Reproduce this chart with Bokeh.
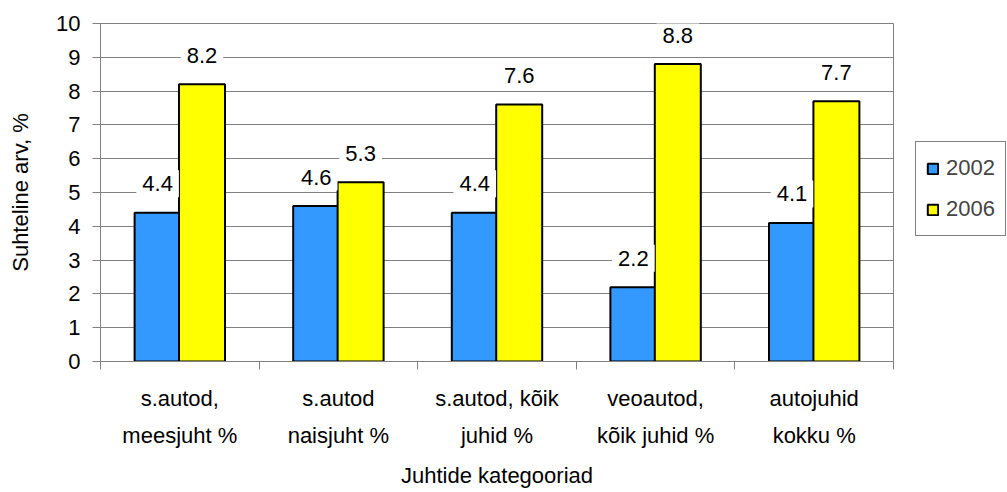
import numpy as np
from bokeh.plotting import figure
from bokeh.models import (ColumnDataSource, Label, Range1d, FixedTicker,
                          Legend, LegendItem)
from bokeh.embed import file_html
from bokeh.resources import INLINE

# ---- data ----
categories = ["s.autod,\nmeesjuht %", "s.autod\nnaisjuht %", "s.autod, kõik\njuhid %",
              "veoautod,\nkõik juhid %", "autojuhid\nkokku %"]
series_names = ["2002", "2006"]
values_2002 = [4.4, 4.6, 4.4, 2.2, 4.1]
values_2006 = [8.2, 5.3, 7.6, 8.8, 7.7]
y_ticks = [0, 1, 2, 3, 4, 5, 6, 7, 8, 9, 10]
colors = ["#3399FF", "#FFFF00"]

FONT = "Liberation Sans"
FS = "22px"
GRAY = "#808080"
n = len(categories)
centers = np.arange(n) + 0.5
offset = 0.14
bar_w = 0.29

p = figure(frame_width=793, frame_height=338, x_range=Range1d(0, n), y_range=Range1d(0, 10),
           output_backend="svg", toolbar_location=None,
           min_border_left=100, min_border_right=114, min_border_top=23,
           min_border_bottom=131, background_fill_color="white",
           border_fill_color="white", outline_line_color=GRAY)

renderers = []
for k, (name, vals, col) in enumerate(zip(series_names, [values_2002, values_2006], colors)):
    xs = centers + (offset if k else -offset)
    src = ColumnDataSource(dict(x=xs, top=vals))
    r = p.vbar(x="x", top="top", width=bar_w, source=src, fill_color=col,
               line_color="black", line_width=2)
    renderers.append(r)
    for xv, v in zip(xs, vals):
        p.add_layout(Label(x=float(xv), y=v, text=f"{v:.1f}", text_align="center",
                           text_baseline="middle", y_offset=29, text_font=FONT,
                           text_font_size=FS, text_color="black",
                           background_fill_color="white", padding=6))

# x axis
xa = p.xaxis[0]
xa.ticker = FixedTicker(ticks=list(centers), minor_ticks=list(range(n + 1)))
xa.major_label_overrides = {float(c): cat for c, cat in zip(centers, categories)}
xa.major_tick_line_color = None
xa.major_tick_out = 0
xa.major_tick_in = 0
xa.minor_tick_out = 8
xa.minor_tick_in = 0
xa.minor_tick_line_color = GRAY
xa.axis_line_color = GRAY
xa.major_label_standoff = 16
xa.major_label_text_font = FONT
xa.major_label_text_font_size = FS
xa.major_label_text_line_height = 1.5
xa.major_label_text_color = "black"
xa.axis_label = "Juhtide kategooriad"
xa.axis_label_text_font = FONT
xa.axis_label_text_font_size = FS
xa.axis_label_text_font_style = "normal"
xa.axis_label_text_color = "black"
xa.axis_label_standoff = 12

# y axis
ya = p.yaxis[0]
ya.ticker = FixedTicker(ticks=y_ticks)
ya.minor_tick_line_color = None
ya.major_tick_out = 8
ya.major_tick_in = 0
ya.major_tick_line_color = GRAY
ya.axis_line_color = GRAY
ya.major_label_standoff = 12
ya.major_label_text_font = FONT
ya.major_label_text_font_size = FS
ya.major_label_text_color = "black"
ya.axis_label = "Suhteline arv, %"
ya.axis_label_text_font = FONT
ya.axis_label_text_font_size = FS
ya.axis_label_text_font_style = "normal"
ya.axis_label_text_color = "black"
ya.axis_label_standoff = 20

p.xgrid.visible = False
p.ygrid.ticker = FixedTicker(ticks=y_ticks)
p.ygrid.grid_line_color = GRAY

legend = Legend(items=[LegendItem(label=nm, renderers=[r]) for nm, r in zip(series_names, renderers)],
                location=(22, 125), glyph_width=13, glyph_height=13,
                label_height=32, spacing=9, padding=10, label_standoff=7,
                label_text_font=FONT, label_text_font_size=FS,
                border_line_color="black", border_line_width=1,
                background_fill_color="white", margin=0)
p.add_layout(legend, "right")

open("out.html", "w").write(file_html(p, INLINE))
